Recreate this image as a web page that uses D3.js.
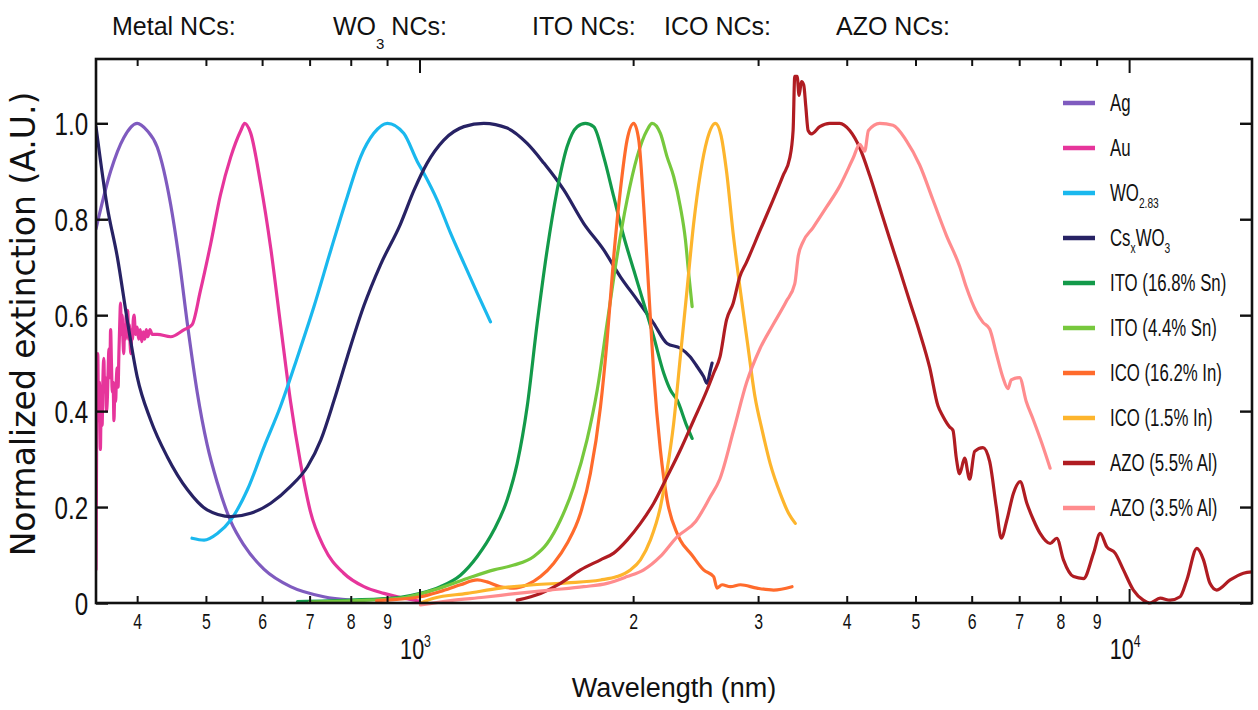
<!DOCTYPE html>
<html>
<head>
<meta charset="utf-8">
<script src="https://cdn.jsdelivr.net/npm/d3@7"></script>
<style>
  body { margin: 0; background: #fff; }
  svg { display: block; }
  text { font-family: "Liberation Sans", Arial, sans-serif; fill: #111; }
</style>
</head>
<body>
<div id="chart"></div>
<script>
// [wavelength (nm), normalized extinction]
var agData = [[350,0.78],[367,0.90],[383,0.97],[400,1.0],[413,0.985],[427,0.95],[446,0.83],[458,0.72],[471,0.58],[486,0.44],[502,0.33],[519,0.25],[542,0.17],[566,0.12],[604,0.07],[658,0.034],[733,0.013],[800,0.006]];
var auData = [[350,0.07],[351,0.45],[352,0.52],[353,0.38],[354,0.46],[355,0.32],[356,0.42],[357,0.37],[358,0.47],[359,0.51],[360,0.44],[361,0.47],[362,0.40],[363,0.42],[364,0.48],[365,0.53],[366,0.47],[367,0.57],[368,0.50],[369,0.44],[370,0.46],[371,0.38],[372,0.44],[373,0.42],[374,0.47],[375,0.49],[376,0.45],[377,0.52],[378,0.58],[379,0.625],[380,0.56],[381,0.60],[382,0.55],[383,0.52],[384,0.58],[385,0.55],[386,0.60],[387,0.56],[388,0.61],[389,0.55],[390,0.58],[391,0.54],[392,0.52],[393,0.57],[394,0.55],[395,0.59],[396,0.60],[398,0.56],[400,0.575],[402,0.55],[404,0.57],[406,0.545],[408,0.565],[410,0.55],[412,0.57],[414,0.555],[417,0.57],[420,0.56],[427,0.56],[446,0.555],[466,0.57],[478,0.58],[491,0.65],[508,0.75],[524,0.85],[542,0.93],[560,0.985],[567,1.0],[578,0.98],[597,0.875],[617,0.74],[637,0.58],[658,0.42],[680,0.29],[702,0.19],[733,0.117],[782,0.062],[835,0.034],[891,0.02],[950,0.01],[1000,0.004]];
var wo283Data = [[478,0.135],[497,0.131],[519,0.145],[542,0.173],[572,0.236],[604,0.326],[637,0.41],[673,0.513],[710,0.618],[750,0.736],[791,0.847],[826,0.93],[862,0.979],[901,1.0],[950,0.979],[993,0.92],[1014,0.896],[1059,0.84],[1106,0.771],[1155,0.708],[1206,0.646],[1259,0.586]];
var cswo3Data = [[350,0.993],[363,0.826],[375,0.722],[388,0.583],[400,0.472],[418,0.381],[441,0.305],[471,0.236],[502,0.194],[542,0.18],[578,0.187],[617,0.208],[658,0.243],[695,0.284],[726,0.34],[758,0.423],[791,0.513],[835,0.62],[881,0.705],[940,0.79],[982,0.86],[1025,0.917],[1082,0.965],[1155,0.993],[1232,1.0],[1329,0.99],[1418,0.958],[1497,0.917],[1597,0.861],[1704,0.791],[1818,0.736],[1919,0.68],[2026,0.632],[2138,0.583],[2233,0.541],[2331,0.531],[2408,0.513],[2461,0.493],[2514,0.472],[2542,0.458],[2570,0.486],[2584,0.50]];
var ito168Data = [[673,0.003],[800,0.006],[940,0.012],[1003,0.02],[1070,0.034],[1142,0.058],[1206,0.097],[1273,0.152],[1329,0.215],[1373,0.291],[1418,0.409],[1465,0.583],[1513,0.736],[1563,0.861],[1614,0.951],[1668,0.993],[1713,1.0],[1760,0.993],[1818,0.93],[1878,0.847],[1940,0.764],[2004,0.694],[2070,0.625],[2138,0.555],[2209,0.479],[2257,0.444],[2307,0.423],[2382,0.368],[2422,0.343]];
var ito44Data = [[700,0.002],[850,0.006],[940,0.01],[1047,0.027],[1167,0.051],[1273,0.069],[1358,0.079],[1449,0.097],[1513,0.124],[1580,0.173],[1650,0.243],[1722,0.34],[1780,0.444],[1838,0.583],[1898,0.722],[1961,0.84],[2026,0.93],[2093,0.986],[2127,1.0],[2185,0.979],[2233,0.93],[2281,0.889],[2331,0.826],[2370,0.757],[2395,0.687],[2422,0.618]];
var ico162Data = [[870,0.005],[1003,0.013],[1070,0.024],[1142,0.038],[1206,0.048],[1245,0.044],[1300,0.034],[1358,0.031],[1418,0.038],[1481,0.055],[1546,0.083],[1614,0.124],[1686,0.187],[1741,0.27],[1799,0.409],[1838,0.548],[1878,0.722],[1919,0.861],[1961,0.965],[2004,1.0],[2037,0.965],[2070,0.826],[2104,0.652],[2138,0.479],[2185,0.319],[2233,0.215],[2307,0.145],[2331,0.131],[2420,0.1],[2514,0.069],[2597,0.055],[2626,0.031],[2669,0.038],[2742,0.034],[2833,0.038],[2989,0.031],[3155,0.027],[3349,0.034]];
var ico15Data = [[1003,0.0],[1047,0.01],[1167,0.02],[1300,0.031],[1449,0.038],[1614,0.042],[1799,0.048],[1898,0.055],[1982,0.069],[2048,0.09],[2115,0.131],[2185,0.2],[2233,0.277],[2281,0.374],[2331,0.513],[2382,0.652],[2434,0.791],[2488,0.896],[2542,0.965],[2612,1.0],[2660,0.975],[2708,0.9],[2767,0.77],[2827,0.66],[2900,0.54],[2970,0.43],[3040,0.36],[3121,0.29],[3224,0.228],[3312,0.187],[3385,0.166]];
var azo55Data = [[1373,0.006],[1481,0.02],[1580,0.041],[1686,0.069],[1799,0.09],[1878,0.104],[1961,0.131],[2048,0.166],[2138,0.208],[2233,0.263],[2331,0.319],[2434,0.381],[2542,0.444],[2597,0.479],[2651,0.513],[2708,0.59],[2767,0.625],[2827,0.68],[2889,0.71],[3016,0.775],[3149,0.84],[3253,0.891],[3324,0.927],[3361,0.985],[3379,1.098],[3405,1.098],[3427,1.058],[3453,1.087],[3479,1.08],[3502,1.036],[3529,0.985],[3567,0.978],[3665,0.993],[3785,1.0],[3910,1.0],[4039,0.985],[4172,0.949],[4310,0.891],[4452,0.825],[4597,0.76],[4749,0.695],[4906,0.629],[5068,0.564],[5235,0.491],[5378,0.411],[5467,0.389],[5586,0.367],[5646,0.36],[5708,0.302],[5769,0.269],[5864,0.302],[5960,0.258],[6058,0.316],[6224,0.324],[6360,0.295],[6499,0.2],[6604,0.135],[6726,0.173],[6871,0.229],[7022,0.253],[7176,0.208],[7332,0.173],[7492,0.145],[7739,0.124],[7909,0.135],[8081,0.09],[8350,0.055],[8625,0.051],[8910,0.104],[9104,0.145],[9302,0.117],[9556,0.104],[9817,0.069],[10140,0.027],[10470,0.006],[10700,0.0],[11060,0.01],[11420,0.006],[11800,0.013],[12060,0.048],[12460,0.114],[12730,0.09],[13000,0.041],[13290,0.027],[13880,0.048],[14490,0.062],[14970,0.065]];
var azo35Data = [[1003,-0.004],[1106,0.005],[1232,0.012],[1373,0.02],[1529,0.027],[1704,0.034],[1838,0.041],[1961,0.055],[2070,0.069],[2185,0.097],[2307,0.138],[2450,0.17],[2570,0.222],[2649,0.258],[2771,0.36],[2891,0.46],[3018,0.53],[3149,0.58],[3288,0.629],[3379,0.665],[3418,0.724],[3471,0.753],[3584,0.782],[3745,0.825],[3910,0.869],[4083,0.927],[4172,0.956],[4240,0.942],[4292,0.985],[4452,1.0],[4648,0.996],[4853,0.964],[5068,0.913],[5292,0.84],[5525,0.767],[5769,0.702],[5897,0.658],[6090,0.607],[6224,0.585],[6360,0.571],[6499,0.52],[6640,0.47],[6749,0.447],[6822,0.465],[7009,0.47],[7162,0.42],[7332,0.381],[7534,0.333],[7739,0.281]];

var seriesData = [agData, auData, wo283Data, cswo3Data, ito168Data, ito44Data, ico162Data, ico15Data, azo55Data, azo35Data];
var seriesLabels = ["Ag", "Au", "WO_{2.83}", "Cs_{x}WO_{3}", "ITO (16.8% Sn)", "ITO (4.4% Sn)", "ICO (16.2% In)", "ICO (1.5% In)", "AZO (5.5% Al)", "AZO (3.5% Al)"];
var groupLabels = ["Metal NCs:", "WO_{3} NCs:", "ITO NCs:", "ICO NCs:", "AZO NCs:"];

var minorTicks = [400, 500, 600, 700, 800, 900, 2000, 3000, 4000, 5000, 6000, 7000, 8000, 9000];
var minorTickLabels = ["4", "5", "6", "7", "8", "9", "2", "3", "4", "5", "6", "7", "8", "9"];
var majorTicks = [1000, 10000];
var majorTickExp = ["3", "4"];
var yTicks = [0, 0.2, 0.4, 0.6, 0.8, 1.0];
var yTickLabels = ["0", "0.2", "0.4", "0.6", "0.8", "1.0"];

// styling
var colors = ["#7f5bbf", "#e6359b", "#1ab8ee", "#272264", "#139a4a", "#77c83d", "#ff6b2c", "#fdb52d", "#b01c22", "#ff8c8e"];
var groupX = [112, 333, 532, 664, 836];

var width = 1258, height = 710,
    plotL = 96, plotR = 1252, plotT = 59, plotB = 603;

var svg = d3.select("#chart").append("svg")
    .attr("width", width)
    .attr("height", height);

var x = d3.scaleLog().domain([350, 14900]).range([plotL, plotR]);
var y = d3.scaleLinear().domain([0, 1.134]).range([plotB, plotT]);

// text with _{sub} parts
function richText(sel, str, subSize, subDy) {
  var parts = str.split(/(_\{[^}]*\})/);
  var down = false;
  parts.forEach(function (p) {
    if (!p) return;
    if (p.indexOf("_{") === 0) {
      sel.append("tspan").attr("font-size", subSize).attr("dy", down ? 0 : subDy).text(p.slice(2, -1));
      down = true;
    } else {
      sel.append("tspan").attr("dy", down ? -subDy : 0).text(p);
      down = false;
    }
  });
}

svg.append("clipPath").attr("id", "plot")
  .append("rect").attr("x", plotL).attr("y", plotT).attr("width", plotR - plotL).attr("height", plotB - plotT + 4);

// curves
var line = d3.line()
    .x(function (d) { return x(d[0]); })
    .y(function (d) { return y(d[1]); })
    .curve(d3.curveMonotoneX);

svg.append("g").attr("clip-path", "url(#plot)")
  .selectAll("path")
  .data(seriesData)
  .join("path")
    .attr("d", line)
    .attr("fill", "none")
    .attr("stroke", function (d, i) { return colors[i]; })
    .attr("stroke-width", 3.2)
    .attr("stroke-linejoin", "round")
    .attr("stroke-linecap", "round");

// axes, ticks pointing inward
function tidy(g, w) {
  g.select(".domain").remove();
  g.selectAll("line").attr("stroke", "#111").attr("stroke-width", w);
  g.attr("font-family", null).attr("font-size", null);
}

var gx = svg.append("g").attr("transform", "translate(0," + plotB + ")")
  .call(d3.axisBottom(x).tickValues(minorTicks).tickSize(-7).tickPadding(10)
    .tickFormat(function (d, i) { return minorTickLabels[i]; }))
  .call(tidy, 2);
gx.selectAll("text").attr("font-size", 22).attr("transform", "scale(0.72,1)");

svg.append("g").attr("transform", "translate(0," + plotB + ")")
  .call(d3.axisBottom(x).tickValues(majorTicks).tickSize(-14).tickFormat(""))
  .call(tidy, 2);

svg.append("g").attr("transform", "translate(0," + plotT + ")")
  .call(d3.axisTop(x).tickValues(minorTicks).tickSize(-7).tickFormat(""))
  .call(tidy, 2);
svg.append("g").attr("transform", "translate(0," + plotT + ")")
  .call(d3.axisTop(x).tickValues(majorTicks).tickSize(-14).tickFormat(""))
  .call(tidy, 2);

var gy = svg.append("g").attr("transform", "translate(" + plotL + ",0)")
  .call(d3.axisLeft(y).tickValues(yTicks).tickSize(-12).tickPadding(10)
    .tickFormat(function (d, i) { return yTickLabels[i]; }))
  .call(tidy, 2.4);
gy.selectAll("text").attr("font-size", 31).attr("transform", "scale(0.78,1)").attr("dy", "0.36em");

svg.append("g").attr("transform", "translate(" + plotR + ",0)")
  .call(d3.axisRight(y).tickValues(yTicks).tickSize(-12).tickFormat(""))
  .call(tidy, 2.4);

// decade labels 10^3, 10^4
majorTicks.forEach(function (v, i) {
  var t = svg.append("g")
    .attr("transform", "translate(" + (x(v) - 4) + ",659) scale(0.72,1)")
    .append("text").attr("text-anchor", "middle").attr("font-size", 30);
  t.append("tspan").text("10");
  t.append("tspan").attr("font-size", 17).attr("dy", -12).text(majorTickExp[i]);
});

// frame
svg.append("rect")
  .attr("x", plotL).attr("y", plotT)
  .attr("width", plotR - plotL).attr("height", plotB - plotT)
  .attr("fill", "none").attr("stroke", "#111").attr("stroke-width", 2.6);

// axis titles
svg.append("text")
  .attr("x", 674).attr("y", 697)
  .attr("text-anchor", "middle").attr("font-size", 27)
  .text("Wavelength (nm)");

svg.append("text")
  .attr("transform", "translate(35,324) rotate(-90)")
  .attr("text-anchor", "middle")
  .attr("font-size", 33)
  .style("font-family", "'DejaVu Sans', sans-serif")
  .text("Normalized extinction (A.U.)");

// group headers
groupLabels.forEach(function (s, i) {
  var t = svg.append("text").attr("x", groupX[i]).attr("y", 35).attr("font-size", 25);
  richText(t, s, 15, 14);
});

// legend
var legend = svg.append("g").attr("transform", "translate(1063,103)");
seriesLabels.forEach(function (s, i) {
  var row = legend.append("g").attr("transform", "translate(0," + i * 45 + ")");
  row.append("line").attr("x1", 0).attr("x2", 32)
    .attr("stroke", colors[i]).attr("stroke-width", 4.5);
  var t = row.append("g").attr("transform", "translate(47,8) scale(0.73,1)")
    .append("text").attr("font-size", 23);
  richText(t, s, 14, 7);
});
</script>
</body>
</html>
